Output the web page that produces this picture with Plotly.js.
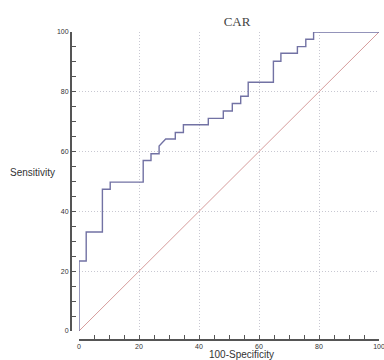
<!DOCTYPE html>
<html>
<head>
<meta charset="utf-8">
<script src="https://cdn.plot.ly/plotly-3.0.1.min.js"></script>
<style>html,body{margin:0;padding:0;background:#fff}#chart{width:384px;height:360px}</style>
</head>
<body>
<div id="chart"></div>
<script>
// ROC curve vertices (100-Specificity, Sensitivity)
const rocX = [0,0,2.4,2.4,7.8,7.8,10.4,10.4,21.4,21.4,24,24,26.7,26.7,28.9,32.1,32.1,34.8,34.8,43.1,43.1,48.1,48.1,51.1,51.1,53.9,53.9,56.4,56.4,64.8,64.8,67.3,67.3,72.8,72.8,75.6,75.6,78.2,78.2,100];
const rocY = [0,23.4,23.4,33.1,33.1,47.4,47.4,49.8,49.8,57,57,59.3,59.3,61.9,64.2,64.2,66.4,66.4,69,69,71.1,71.1,73.6,73.6,76.1,76.1,78.5,78.5,83.2,83.2,90.2,90.2,92.9,92.9,95.1,95.1,97.6,97.6,100,100];
// Reference (chance) line
const refX = [0,100];
const refY = [0,100];
const tickVals = [0,20,40,60,80,100];
const tickText = ['0','20','40','60','80','100'];
const chartTitle = 'CAR';
const xTitle = '100-Specificity';
const yTitle = 'Sensitivity';

const traces = [
  {x: refX, y: refY, type: 'scatter', mode: 'lines', line: {color: '#d69c9c', width: 1}, hoverinfo: 'skip', cliponaxis: false},
  {x: rocX, y: rocY, type: 'scatter', mode: 'lines', line: {color: '#7272a4', width: 1.4}, cliponaxis: false}
];

const axisCommon = {
  range: [0, 100],
  tickvals: tickVals,
  ticktext: tickText,
  ticks: 'inside',
  ticklen: 4,
  tickwidth: 1,
  tickcolor: '#555',
  showline: true,
  linecolor: '#555',
  linewidth: 1.5,
  showgrid: true,
  gridcolor: '#c8c8d2',
  griddash: '1px,2px',
  gridwidth: 1,
  zeroline: false,
  ticklabeloverflow: 'allow',
  tickfont: {family: 'Arial, Liberation Sans, sans-serif', size: 7, color: '#333'},
  minor: {dtick: 5, ticks: 'inside', ticklen: 4, tickcolor: '#555', showgrid: false},
  fixedrange: true
};

const layout = {
  width: 384, height: 360,
  margin: {l: 50, r: 5, t: 32, b: 14},
  paper_bgcolor: '#fff', plot_bgcolor: '#fff',
  showlegend: false,
  title: {text: chartTitle, font: {family: 'Liberation Serif, Times New Roman, serif', size: 13, color: '#444'}, x: 237/384, xanchor: 'center', y: 1 - 21/360, yanchor: 'middle'},
  xaxis: Object.assign({}, axisCommon, {domain: [29/329, 1], anchor: 'free', position: 7/314}),
  yaxis: Object.assign({}, axisCommon, {domain: [15/314, 1], anchor: 'free', position: 20/329}),
  annotations: [
    {text: xTitle, xref: 'paper', yref: 'paper', x: (241-50)/329, y: (346-354)/314, xanchor: 'center', yanchor: 'middle', showarrow: false, font: {family: 'Arial, Liberation Sans, sans-serif', size: 10, color: '#333'}},
    {text: yTitle, xref: 'paper', yref: 'paper', x: (32-50)/329, y: (346-172)/314, xanchor: 'center', yanchor: 'middle', showarrow: false, font: {family: 'Arial, Liberation Sans, sans-serif', size: 10, color: '#333'}}
  ]
};

Plotly.newPlot('chart', traces, layout, {staticPlot: true, displayModeBar: false});
</script>
</body>
</html>
